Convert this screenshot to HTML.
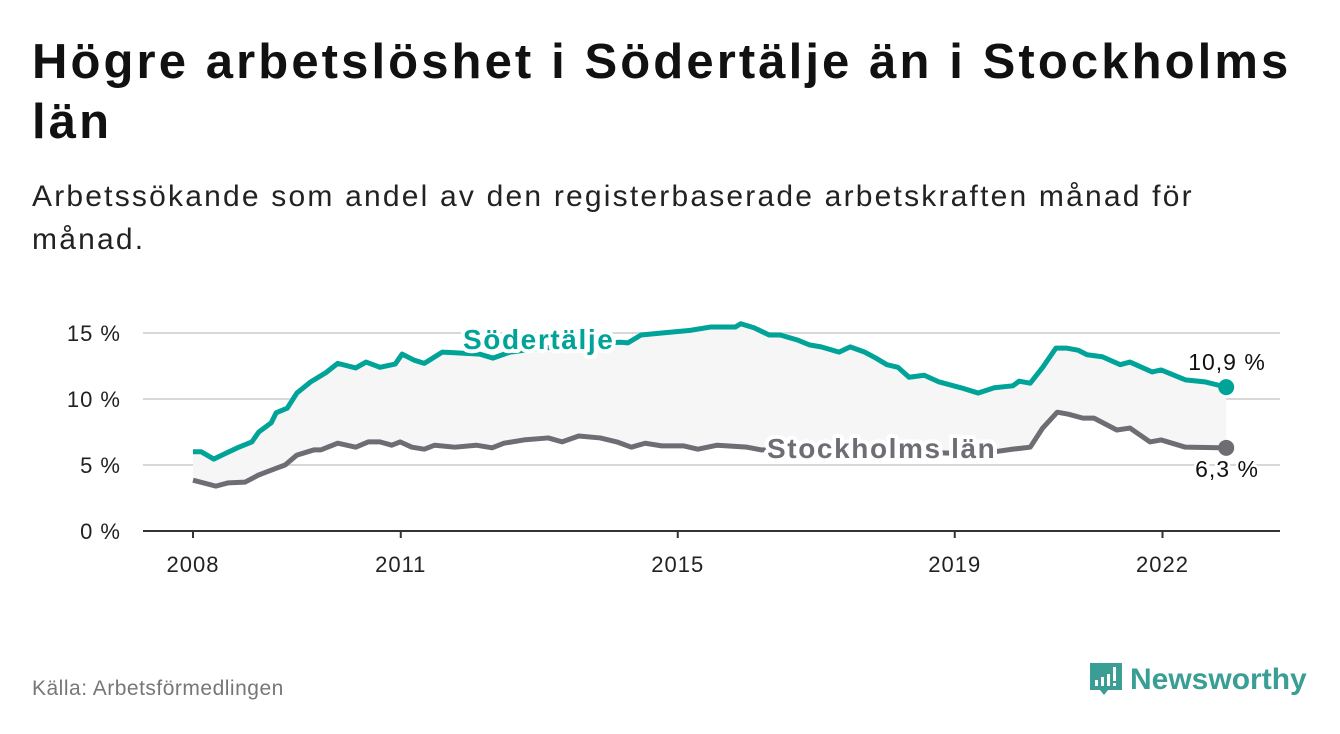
<!DOCTYPE html>
<html><head><meta charset="utf-8"><style>
body{margin:0;width:1340px;height:734px;background:#fff;font-family:"Liberation Sans",sans-serif;overflow:hidden;position:relative}
.t{position:absolute;left:32px;top:32px;font-size:49px;letter-spacing:3.1px;font-weight:bold;color:#111;line-height:60px;white-space:nowrap}
.s{position:absolute;left:32px;top:175px;font-size:30px;letter-spacing:2.2px;color:#222;line-height:43px;white-space:nowrap}
.src{position:absolute;left:32px;top:677px;font-size:21px;letter-spacing:0.5px;color:#777}
.logo{position:absolute;left:1088px;top:660px}
</style></head><body>
<div class="t">Högre arbetslöshet i Södertälje än i Stockholms<br>län</div>
<div class="s">Arbetssökande som andel av den registerbaserade arbetskraften månad för<br>månad.</div>
<svg id="chart" width="1340" height="734" style="position:absolute;left:0;top:0"></svg>
<div class="src">Källa: Arbetsförmedlingen</div>
<div class="logo">
<svg width="230" height="50"><path d="M2 3h32v27h-14l-4 5-4-5h-10z" fill="#3a9e95"/><rect x="7" y="20" width="3" height="6" fill="#fff"/><rect x="13" y="17" width="3" height="9" fill="#fff"/><rect x="19" y="14" width="3" height="12" fill="#fff"/><rect x="25" y="7" width="3" height="14" fill="#fff"/><rect x="25" y="23" width="3" height="3" fill="#fff"/><text x="42" y="29" font-size="30" font-weight="bold" fill="#3a9e95" font-family="Liberation Sans,sans-serif">Newsworthy</text></svg></div>
<script>
const sodYears=[2008.0,2008.12,2008.3,2008.46,2008.64,2008.85,2008.95,2009.13,2009.2,2009.36,2009.5,2009.7,2009.92,2010.09,2010.35,2010.5,2010.7,2010.92,2011.02,2011.19,2011.34,2011.6,2011.78,2012.14,2012.33,2012.58,2013.01,2013.44,2013.88,2014.18,2014.28,2014.47,2014.77,2015.18,2015.47,2015.83,2015.91,2016.1,2016.32,2016.48,2016.74,2016.9,2017.07,2017.33,2017.49,2017.7,2017.86,2018.02,2018.18,2018.34,2018.56,2018.77,2019.09,2019.34,2019.57,2019.84,2019.93,2020.09,2020.27,2020.46,2020.62,2020.78,2020.91,2021.13,2021.39,2021.53,2021.7,2021.85,2021.98,2022.33,2022.61,2022.92];
const sodValues=[6.0,6.0,5.45,5.85,6.3,6.75,7.5,8.2,8.95,9.3,10.45,11.3,12.0,12.7,12.35,12.8,12.4,12.65,13.4,12.95,12.7,13.55,13.5,13.4,13.1,13.55,13.85,14.0,14.25,14.3,14.25,14.85,15.0,15.2,15.45,15.45,15.7,15.4,14.85,14.85,14.45,14.1,13.95,13.55,13.95,13.55,13.1,12.6,12.4,11.65,11.8,11.3,10.85,10.45,10.85,11.0,11.35,11.2,12.4,13.85,13.85,13.7,13.35,13.2,12.6,12.8,12.4,12.05,12.2,11.45,11.3,10.9];
const sthYears=[2008.0,2008.33,2008.51,2008.75,2008.95,2009.2,2009.33,2009.5,2009.75,2009.85,2010.09,2010.35,2010.53,2010.7,2010.87,2010.99,2011.16,2011.34,2011.49,2011.78,2012.09,2012.32,2012.49,2012.78,2013.13,2013.33,2013.57,2013.88,2014.12,2014.33,2014.53,2014.77,2015.08,2015.29,2015.57,2016.0,2016.2,2016.77,2017.49,2018.21,2018.93,2019.57,2019.84,2020.09,2020.27,2020.48,2020.64,2020.85,2021.01,2021.34,2021.53,2021.82,2021.98,2022.33,2022.92];
const sthValues=[3.85,3.4,3.65,3.7,4.25,4.75,5.0,5.75,6.15,6.15,6.65,6.35,6.75,6.75,6.5,6.75,6.35,6.2,6.5,6.35,6.5,6.3,6.65,6.9,7.05,6.75,7.2,7.05,6.75,6.35,6.65,6.45,6.45,6.2,6.5,6.35,6.15,6.05,6.0,6.0,5.9,6.0,6.2,6.35,7.8,9.0,8.85,8.55,8.55,7.65,7.8,6.75,6.9,6.35,6.3];
const yTicks=[0,5,10,15];
const yTickLabels=["0 %","5 %","10 %","15 %"];
const xTicks=[2008,2011,2015,2019,2022];
const endLabels=["10,9 %","6,3 %"];
const NS="http://www.w3.org/2000/svg";
const svg=document.getElementById('chart');
const X=y=>193+(y-2008)*69.25;
const Y=v=>531-v*13.2;
function mk(t,a,p){const e=document.createElementNS(NS,t);for(const k in a)e.setAttribute(k,a[k]);(p||svg).appendChild(e);return e;}
yTicks.forEach((v,i)=>{
 if(v>0){const g=mk('line',{x1:143,x2:1280,y1:Y(v),y2:Y(v),stroke:'#d8d8d8','stroke-width':2});
 
 }
 const t=mk('text',{x:121,y:Y(v)+8,'text-anchor':'end','font-size':22,'letter-spacing':1,fill:'#222'});t.textContent=yTickLabels[i];
 
 
});
let d='M'+sodYears.map((y,i)=>X(y)+','+Y(sodValues[i])).join('L');
for(let i=sthYears.length-1;i>=0;i--)d+='L'+X(sthYears[i])+','+Y(sthValues[i]);
const area=mk('path',{d:d+'Z',fill:'#f6f6f6'});


const ax=mk('line',{x1:143,x2:1280,y1:531,y2:531,stroke:'#333','stroke-width':2});


xTicks.forEach(y=>{
 mk('line',{x1:X(y),x2:X(y),y1:531,y2:538,stroke:'#333','stroke-width':2});
 const t=mk('text',{x:X(y),y:572,'text-anchor':'middle','font-size':22,'letter-spacing':1,fill:'#222'});t.textContent=y;
 
 
});
function line(ys,vs,c,name){
 const p=mk('polyline',{points:ys.map((y,i)=>X(y)+','+Y(vs[i])).join(' '),fill:'none',stroke:c,'stroke-width':5,'stroke-linejoin':'round'});
 
 
 const n=ys.length-1;
 const dot=mk('circle',{cx:X(ys[n]),cy:Y(vs[n]),r:8,fill:c});
 
 
}
line(sthYears,sthValues,'#6e6d73','stockholm');
line(sodYears,sodValues,'#00a398','sodertalje');
function lab(x,y,txt,c,name){
 const t=mk('text',{x:x,y:y,'font-size':28,'letter-spacing':1.6,'font-weight':'bold',fill:c,stroke:'#fff','stroke-width':8,'paint-order':'stroke','stroke-linejoin':'round'});t.textContent=txt;
 
 
}
lab(463,349,'Södertälje','#00a398','sodertalje-label');
lab(767,458,'Stockholms län','#6e6d73','stockholm-label');
const e1=mk('text',{x:1227,y:370,'text-anchor':'middle','font-size':23,'letter-spacing':1,fill:'#111'});e1.textContent=endLabels[0];


const e2=mk('text',{x:1227,y:477,'text-anchor':'middle','font-size':23,'letter-spacing':1,fill:'#111',stroke:'#fff','stroke-width':5,'paint-order':'stroke'});e2.textContent=endLabels[1];


</script>
</body></html>
